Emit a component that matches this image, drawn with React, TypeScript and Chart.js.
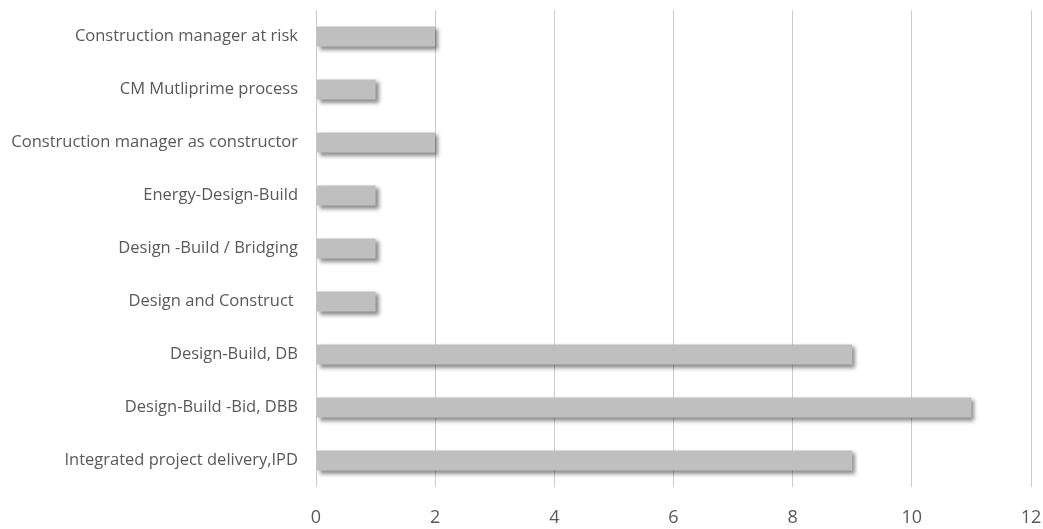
import React, { useEffect, useRef } from "react";
import { Chart, registerables } from "chart.js";

Chart.register(...registerables);

const categories: string[] = [
  "Construction manager at risk",
  "CM Mutliprime process",
  "Construction manager as constructor",
  "Energy-Design-Build",
  "Design -Build / Bridging",
  "Design and Construct ",
  "Design-Build, DB",
  "Design-Build -Bid, DBB",
  "Integrated project delivery,IPD",
];

const counts: number[] = [2, 1, 2, 1, 1, 1, 9, 11, 9];

const xTicks: number[] = [0, 2, 4, 6, 8, 10, 12];

const FONT = "'Open Sans', 'Noto Sans', sans-serif";

// Soft drop shadow beneath the bars
const barShadow = {
  id: "barShadow",
  beforeDatasetsDraw(chart: any) {
    const ctx = chart.ctx;
    ctx.save();
    ctx.shadowColor = "rgba(0,0,0,0.45)";
    ctx.shadowBlur = 4;
    ctx.shadowOffsetX = 3;
    ctx.shadowOffsetY = 3;
  },
  afterDatasetsDraw(chart: any) {
    chart.ctx.restore();
  },
};

export default function App() {
  const canvasRef = useRef<HTMLCanvasElement | null>(null);

  useEffect(() => {
    if (!canvasRef.current) return;
    const chart = new Chart(canvasRef.current, {
      type: "bar",
      data: {
        labels: categories,
        datasets: [
          {
            data: counts,
            backgroundColor: "#bfbfbf",
            borderWidth: 0,
            barPercentage: 0.38,
            categoryPercentage: 1,
          },
        ],
      },
      options: {
        indexAxis: "y",
        animation: false,
        responsive: false,
        layout: { padding: { top: 10, right: 12, left: 0, bottom: 0 } },
        plugins: {
          legend: { display: false },
          tooltip: { enabled: false },
        },
        scales: {
          x: {
            min: 0,
            max: 12,
            afterBuildTicks: (scale: any) => {
              scale.ticks = xTicks.map((v) => ({ value: v }));
            },
            afterFit: (scale: any) => {
              scale.height = 42;
              scale.paddingLeft = 0;
              scale.paddingRight = 0;
            },
            grid: {
              color: "#cccccc",
              lineWidth: 1,
              drawTicks: false,
            },
            border: { display: false },
            ticks: {
              color: "#595959",
              padding: 20,
              font: { family: FONT, size: 18 },
            },
          },
          y: {
            afterFit: (scale: any) => {
              scale.width = 316;
              scale.paddingTop = 0;
              scale.paddingBottom = 0;
            },
            grid: { display: false },
            border: { display: false },
            ticks: {
              color: "#595959",
              padding: 10,
              font: { family: FONT, size: 16.5 },
            },
          },
        },
      },
      plugins: [barShadow],
    });
    return () => chart.destroy();
  }, []);

  return (
    <div style={{ position: "fixed", left: 0, top: 0, width: 1043, height: 529, background: "#fff" }}>
      <canvas ref={canvasRef} width={1043} height={529} />
    </div>
  );
}
